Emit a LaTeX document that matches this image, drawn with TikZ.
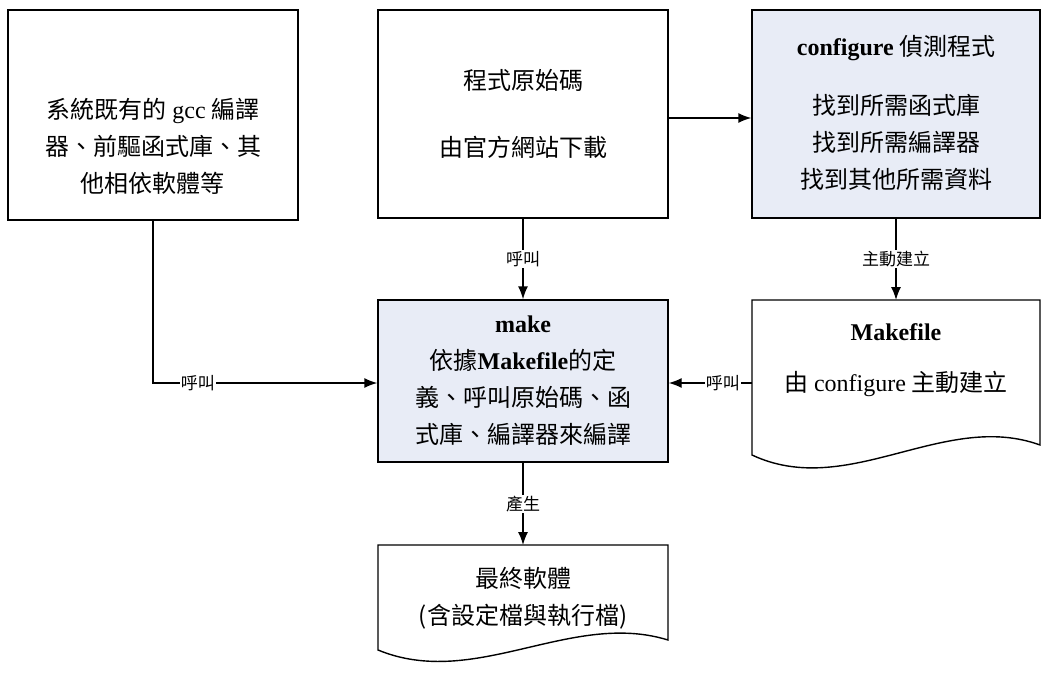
\documentclass[tikz,border=0pt]{standalone}
\usepackage{fontspec}
\setmainfont{Liberation Serif}
\newfontfamily\cjk{Noto Sans CJK TC}
\usetikzlibrary{arrows.meta}
\definecolor{boxfill}{HTML}{E8ECF6}
\begin{document}
\begin{tikzpicture}[x=1pt,y=-1pt,
  box/.style={draw,line width=1.4pt,align=center,font=\fontsize{24}{37}\selectfont\cjk},
  txt/.style={align=center,font=\fontsize{24}{37}\selectfont\cjk},
  lbl/.style={fill=white,inner sep=1pt,font=\fontsize{17}{17}\selectfont\cjk},
  arr/.style={-{Latex[length=13pt,width=10pt]},line width=1.4pt}]
\useasboundingbox (0,0) rectangle (1049,679);
% boxes
\node[draw,line width=1.4pt,minimum width=290,minimum height=210] (sys) at (153,115) {};
\node[txt] (syst) at (153,146) {系統既有的 {\rmfamily gcc} 編譯\\器、前驅函式庫、其\\他相依軟體等};
\node[box,minimum width=290,minimum height=208] (src) at (523,114)
  {程式原始碼\\[30pt]由官方網站下載};
\node[box,fill=boxfill,minimum width=288,minimum height=208] (conf) at (896,114) {};
\node[font=\fontsize{24}{24}\selectfont\cjk] (conft) at (896,48) {{\rmfamily\bfseries configure} 偵測程式};
\node[align=center,font=\fontsize{24}{37}\selectfont\cjk] (confb) at (896,142)
  {找到所需函式庫\\找到所需編譯器\\找到其他所需資料};
\node[box,fill=boxfill,minimum width=290,minimum height=162] (make) at (523,381)
  {{\rmfamily\bfseries make}\\依據{\rmfamily\bfseries Makefile}的定\\義、呼叫原始碼、函\\式庫、編譯器來編譯};
% document shapes
\draw[line width=1.4pt] (752,300) -- (1040,300) -- (1040,445)
  .. controls (944,410) and (848,500) .. (752,455) -- cycle;
\node[font=\fontsize{24}{24}\selectfont\rmfamily\bfseries] (mkt) at (896,332) {Makefile};
\node[font=\fontsize{24}{24}\selectfont\cjk] (mkb) at (896,384) {由 {\rmfamily configure} 主動建立};
\coordinate (mkl) at (752,383);
\coordinate (mktop) at (896,300);
\draw[line width=1.4pt] (378,545) -- (668,545) -- (668,640)
  .. controls (571,610) and (475,690) .. (378,650) -- cycle;
\coordinate (fin) at (523,545);
\node[txt] (fint) at (523,598) {最終軟體\\(含設定檔與執行檔)};
% connectors
\draw[arr] (src.east |- 0,118) -- (conf.west |- 0,118);
\draw[arr] (src) -- node[lbl]{呼叫} (make);
\draw[arr] (conf) -- node[lbl]{主動建立} (mktop);
\draw[arr] (mkl) -- node[lbl,pos=0.35]{呼叫} (make.east |- mkl);
\draw[arr] (sys.south) |- node[lbl,pos=0.6]{呼叫} (make.west |- mkl);
\draw[arr] (make) -- node[lbl]{產生} (fin);
\end{tikzpicture}
\end{document}
